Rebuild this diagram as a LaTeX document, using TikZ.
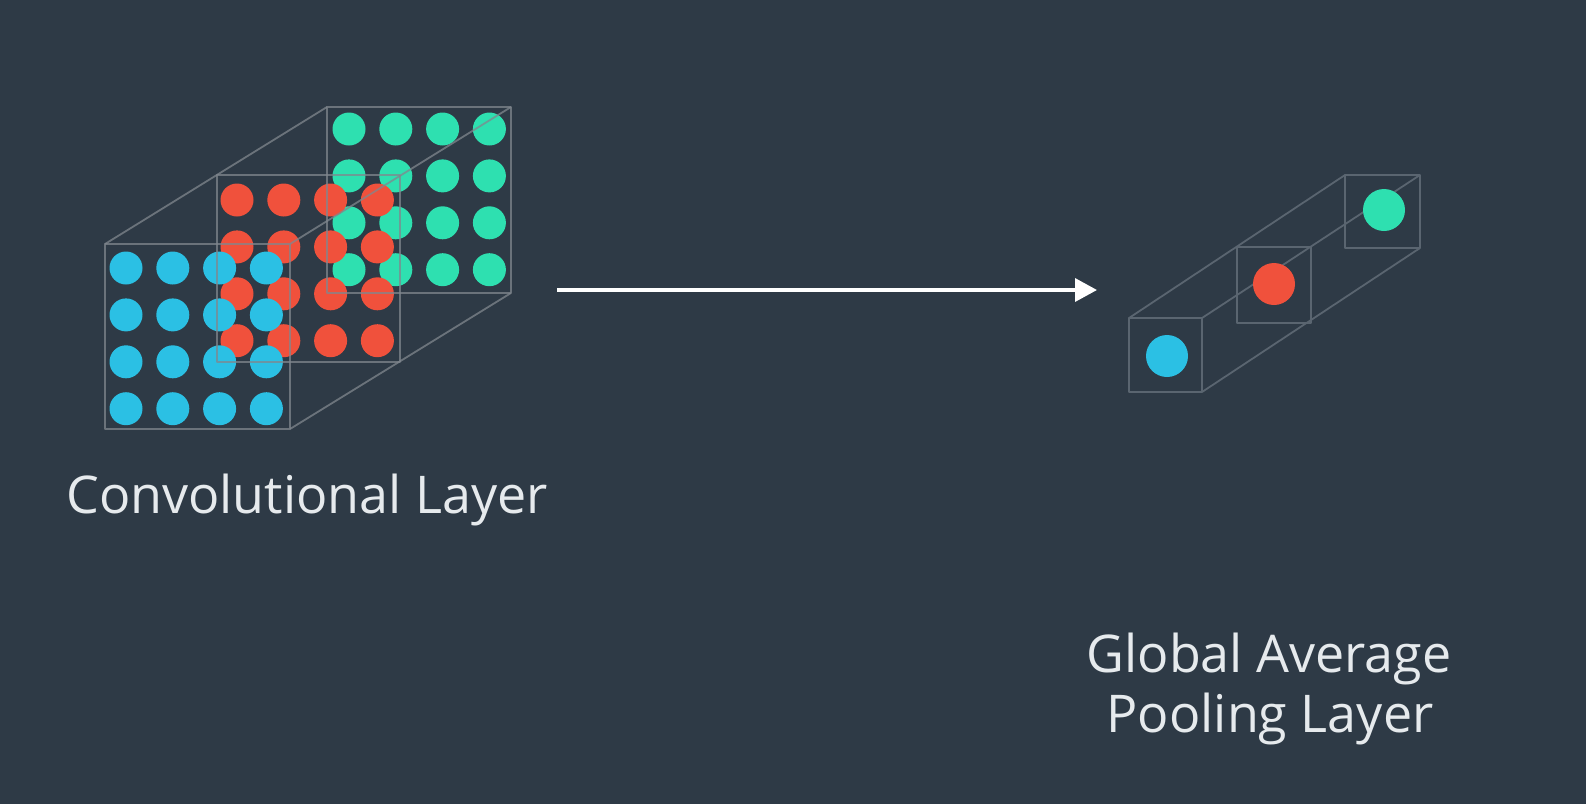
\documentclass[tikz,border=0pt]{standalone}
\usepackage{fontspec}
\setmainfont{Open Sans}
\usetikzlibrary{arrows.meta}
\definecolor{bg}{HTML}{2E3A46}
\definecolor{dotblue}{HTML}{2BC0E4}
\definecolor{dotred}{HTML}{F0513C}
\definecolor{dotgreen}{HTML}{2EE0B0}
\definecolor{edgebig}{HTML}{80878E}
\definecolor{edgesmall}{HTML}{5A6570}
\definecolor{txt}{HTML}{E6EAED}
\tikzset{
  bigedge/.style={draw=edgebig, line width=1.8pt, opacity=0.75, line join=round},
  smalledge/.style={draw=edgesmall, line width=1.8pt, line join=round},
  label/.style={text=txt, font=\fontsize{52}{60}\selectfont, inner sep=0pt},
  flow/.style={draw=white, line width=3.5pt, -{Triangle[length=22pt,width=23pt]}}
}
\begin{document}
\begin{tikzpicture}[x=1pt,y=-1pt]
\fill[bg] (0,0) rectangle (1586,804);
\useasboundingbox (0,0) rectangle (1586,804);
% big layers: dots, back to front
\foreach \i in {0,1,2,3}{\foreach \j in {0,1,2,3}{
  \fill[dotgreen] ({349+46.8*\i},{129+46.9*\j}) circle (16.5);}}
\foreach \i in {0,1,2,3}{\foreach \j in {0,1,2,3}{
  \fill[dotred] ({237+46.8*\i},{200+46.9*\j}) circle (16.5);}}
\foreach \i in {0,1,2,3}{\foreach \j in {0,1,2,3}{
  \fill[dotblue] ({126+46.8*\i},{268+46.9*\j}) circle (16.5);}}
% big cube edges
\draw[bigedge] (327,107) rectangle (511,293);
\draw[bigedge] (217,175) rectangle (400,362);
\draw[bigedge] (105,244) rectangle (290,429);
\draw[bigedge] (105,244) -- (327,107);
\draw[bigedge] (290,244) -- (511,107);
\draw[bigedge] (290,429) -- (511,293);
% small column
\draw[smalledge] (1345,175) rectangle (1420,248);
\draw[smalledge] (1237,247) rectangle (1311,323);
\draw[smalledge] (1129,318) rectangle (1202,392);
\draw[smalledge] (1129,318) -- (1345,175);
\draw[smalledge] (1202,318) -- (1420,175);
\draw[smalledge] (1202,392) -- (1420,248);
\fill[dotgreen] (1384,210) circle (21);
\fill[dotred] (1274,284) circle (21);
\fill[dotblue] (1167,356) circle (21);
% arrow
\coordinate (a0) at (557,290);
\coordinate (a1) at (1097,290);
\draw[flow] (a0) -- (a1);
% labels
\node[label, anchor=base west] (conv) at (66,513) {Convolutional Layer};
\node[label, anchor=base] (gap1) at (1269,672) {Global Average};
\node[label, anchor=base] (gap2) at (1270,732) {Pooling Layer};
\end{tikzpicture}
\end{document}
